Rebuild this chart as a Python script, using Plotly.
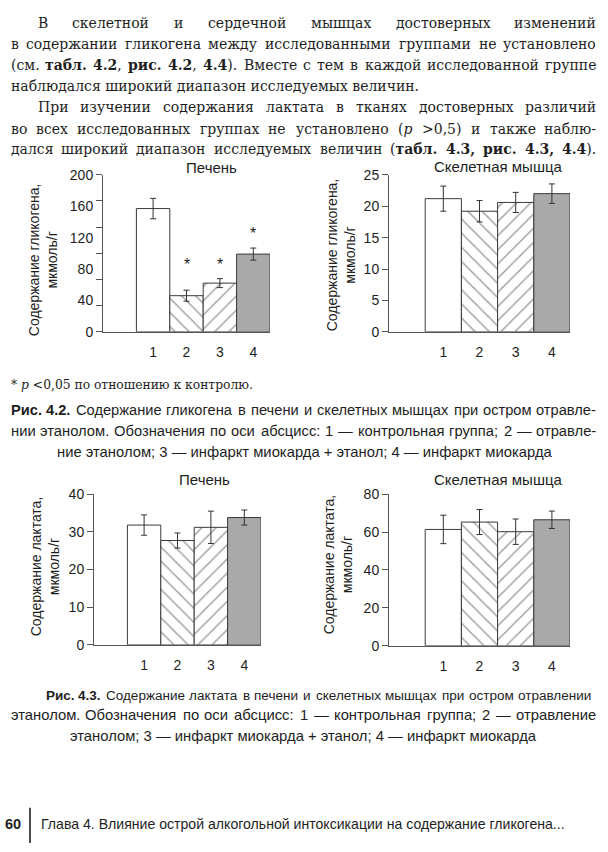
import re
import glob
import plotly.graph_objects as go

W, H = 608, 852

# ---------------- data ----------------
groups = ["1", "2", "3", "4"]
glyc_liver = [157, 46, 62, 99]
glyc_liver_err = [13, 7, 5.7, 7.7]
glyc_liver_sig = ["", "*", "*", "*"]
glyc_muscle = [21.2, 19.2, 20.6, 22.0]
glyc_muscle_err = [2.0, 1.7, 1.6, 1.55]
lact_liver = [31.8, 27.7, 31.2, 33.8]
lact_liver_err = [2.7, 2.0, 4.3, 2.0]
lact_muscle = [61.4, 65.3, 60.2, 66.5]
lact_muscle_err = [7.5, 6.6, 6.7, 4.6]

glyc_liver_ticks = [0, 40, 80, 120, 160, 200]
glyc_muscle_ticks = [0, 5, 10, 15, 20, 25]
lact_liver_ticks = [0, 10, 20, 30, 40]
lact_muscle_ticks = [0, 20, 40, 60, 80]

# ---------------- styles ----------------
SANS = "Liberation Sans, Arial, sans-serif"
SERIF = "DejaVu Serif, serif"
INK = "#1e1e1e"
fills = ["white", "white", "white", "#a9a9a9"]
hatch = ["", "\\", "/", ""]


def px(x):
    return x / W


def py(y):
    return 1 - y / H


fig = go.Figure()

panels = [
    (glyc_liver, glyc_liver_err, 200, glyc_liver_ticks, (103, 270), (330, 170),
     "Печень", (212, 163), "Содержание гликогена,<br>мкмоль/г", (43, 257)),
    (glyc_muscle, glyc_muscle_err, 25, glyc_muscle_ticks, (389, 570), (330, 170),
     "Скелетная мышца", (498, 162), "Содержание гликогена,<br>мкмоль/г", (341, 252)),
    (lact_liver, lact_liver_err, 40, lact_liver_ticks, (94, 261), (649, 495.5),
     "Печень", (204, 481), "Содержание лактата,<br>мкмоль/г", (45, 569)),
    (lact_muscle, lact_muscle_err, 80, lact_muscle_ticks, (389, 570), (650, 495.5),
     "Скелетная мышца", (498, 481), "Содержание лактата,<br>мкмоль/г", (338, 567)),
]

annotations = []
for i, (vals, errs, ymax, ticks, xd, yd, title, tpos, ytitle, ytpos) in enumerate(panels):
    n = i + 1
    xa = "x" if n == 1 else f"x{n}"
    ya = "y" if n == 1 else f"y{n}"
    fig.add_trace(go.Bar(
        x=[1, 2, 3, 4], y=vals, width=1, xaxis=xa, yaxis=ya,
        marker=dict(color=fills, line=dict(color="#3a3a3a", width=1),
                    pattern=dict(shape=hatch, size=10, solidity=0.15,
                                 fgcolor="#000", bgcolor="white")),
        error_y=dict(type="data", array=errs, color="#333", thickness=1, width=3),
        showlegend=False, hoverinfo="skip",
    ))
    xkey = "xaxis" if n == 1 else f"xaxis{n}"
    ykey = "yaxis" if n == 1 else f"yaxis{n}"
    xaxis = dict(domain=[px(xd[0]), px(xd[1])], range=[-0.5, 4.5], anchor=ya,
                 tickvals=[1, 2, 3, 4], ticktext=groups, ticks="",
                 ticklabelstandoff=7, showgrid=False, zeroline=False,
                 showline=True, linecolor="#555", linewidth=1,
                 tickfont=dict(family=SANS, size=14, color=INK), fixedrange=True)
    yaxis = dict(domain=[py(yd[0]), py(yd[1])], range=[0, ymax], anchor=xa,
                 tickvals=ticks, ticks="outside", ticklen=6, tickcolor="#555",
                 showgrid=False, zeroline=False, showline=True, linecolor="#555",
                 linewidth=1, tickfont=dict(family=SANS, size=14, color=INK),
                 fixedrange=True)
    if n == 1:
        # in the original the tick marks divide the axis into 6 parts,
        # while the labels are every 40 units
        yaxis["tickcolor"] = "rgba(0,0,0,0)"
        yaxis["minor"] = dict(tickvals=[ymax * k / 6 for k in range(7)],
                              ticks="outside", ticklen=6, tickcolor="#555")
    fig.layout[xkey] = xaxis
    fig.layout[ykey] = yaxis
    annotations.append(dict(text=title, x=px(tpos[0]), y=py(tpos[1]), xref="paper",
                            yref="paper", showarrow=False, xanchor="center",
                            yanchor="middle", font=dict(family=SANS, size=15, color=INK)))
    annotations.append(dict(text=ytitle, x=px(ytpos[0]), y=py(ytpos[1]), xref="paper",
                            yref="paper", showarrow=False, xanchor="center",
                            yanchor="middle", textangle=-90,
                            font=dict(family=SANS, size=14, color=INK)))

# significance asterisks for glycogen in liver
tops = [v + e for v, e in zip(glyc_liver, glyc_liver_err)]
star_y = [t + 18 for t in tops]
star_y[1] = star_y[2] = max(star_y[1], star_y[2])  # aligned as in the original
for k, s in enumerate(glyc_liver_sig):
    if s:
        annotations.append(dict(text=s, x=k + 1, y=star_y[k], xref="x", yref="y",
                                showarrow=False, yanchor="middle",
                                font=dict(family=SANS, size=16, color=INK)))

# ---------------- text measurement ----------------
FONT_FILES = {
    ("serif", ""): "DejaVuSerif.ttf", ("serif", "b"): "DejaVuSerif-Bold.ttf",
    ("serif", "i"): "DejaVuSerif-Italic.ttf",
    ("sans", ""): "LiberationSans-Regular.ttf", ("sans", "b"): "LiberationSans-Bold.ttf",
    ("sans", "i"): "LiberationSans-Italic.ttf",
}
_fonts = {}
try:
    from PIL import ImageFont
    for key, fname in FONT_FILES.items():
        hits = []
        for root in ("/usr/share/fonts", "/usr/local/share/fonts"):
            hits += glob.glob(f"{root}/**/{fname}", recursive=True)
        if hits:
            _fonts[key] = ImageFont.truetype(hits[0], 100)
except Exception:
    _fonts = {}

EST = {
    "serif": dict(space=0.318, lower=0.663, upper=0.76, digit=0.636, punct=0.318,
                  paren=0.39, cmp=0.838, dash=1.0, hyph=0.338, plus=0.838, bold=1.08),
    "sans": dict(space=0.278, lower=0.554, upper=0.68, digit=0.556, punct=0.278,
                 paren=0.333, cmp=0.584, dash=1.0, hyph=0.333, plus=0.584, bold=1.07),
}


def est_width(s, fam, style):
    tab = EST[fam]
    w = 0.0
    for ch in s:
        if ch == " ":
            w += tab["space"]
        elif ch.isdigit():
            w += tab["digit"]
        elif ch in ".,;:":
            w += tab["punct"]
        elif ch in "()":
            w += tab["paren"]
        elif ch in "<>":
            w += tab["cmp"]
        elif ch == "—":
            w += tab["dash"]
        elif ch == "-":
            w += tab["hyph"]
        elif ch == "+":
            w += tab["plus"]
        elif ch.isupper():
            w += tab["upper"]
        else:
            w += tab["lower"]
    if style == "b":
        w *= tab["bold"]
    return w


def seg_width(s, fam, style):
    """width in em of a plain string"""
    f = _fonts.get((fam, style)) or _fonts.get((fam, ""))
    if f is not None:
        try:
            return f.getlength(s) / 100.0
        except Exception:
            pass
    return est_width(s, fam, style)


def markup_width(tok, fam):
    w = 0.0
    style = ""
    for part in re.split(r"(<[^>]+>)", tok):
        if not part:
            continue
        if part.startswith("<"):
            style = part[1] if part in ("<b>", "<i>") else ""
            continue
        s = part.replace("&gt;", ">").replace("&lt;", "<")
        w += seg_width(s, fam, style)
    return w


def text(t, x, y, font, size, anchor="left"):
    annotations.append(dict(text=t, x=px(x), y=py(y), xref="paper", yref="paper",
                            showarrow=False, xanchor=anchor, yanchor="middle",
                            borderpad=0, font=dict(family=font, size=size, color=INK)))


def justify(line, x0, x1, y, fam, size):
    font = SERIF if fam == "serif" else SANS
    toks = line.split(" ")
    space = seg_width(" ", fam, "")
    ems = [markup_width(t, fam) for t in toks]
    natural = sum(ems) + space * (len(toks) - 1)
    # shrink if the line does not fit
    size = min(size, (x1 - x0) / natural * 0.98)
    widths = [e * size for e in ems]
    gap = (x1 - x0 - sum(widths)) / (len(toks) - 1)
    x = x0
    last = len(toks) - 1
    for k, (t, w) in enumerate(zip(toks, widths)):
        if k == 0:
            text(t, x0, y, font, size, anchor="left")
        elif k == last:
            text(t, x1, y, font, size, anchor="right")
        else:
            text(t, x + w / 2, y, font, size, anchor="center")
        x += w + gap


BS = 14
justify("В скелетной и сердечной мышцах достоверных изменений", 37, 597, 15, "serif", BS)
justify("в содержании гликогена между исследованными группами не установлено",
        10, 597, 37, "serif", BS)
justify("(см. <b>табл.</b> <b>4.2</b>, <b>рис.</b> <b>4.2</b>, <b>4.4</b>). Вместе с тем в каждой исследованной группе",
        10, 597, 58, "serif", BS)
text("наблюдался широкий диапазон исследуемых величин.", 10, 80, SERIF, BS)
justify("При изучении содержания лактата в тканях достоверных различий",
        37, 597, 101, "serif", BS)
justify("во всех исследованных группах не установлено (<i>p</i> &gt;0,5) и также наблю-",
        10, 597, 123, "serif", BS)
justify("дался широкий диапазон исследуемых величин (<b>табл.</b> <b>4.3,</b> <b>рис.</b> <b>4.3,</b> <b>4.4</b>).",
        10, 597, 144, "serif", BS)

# notes and captions
text("* <i>p</i> &lt;0,05 по отношению к контролю.", 10, 384, SERIF, 12.3)
CS = 14.8
justify("<b>Рис.</b> <b>4.2.</b> Содержание гликогена в печени и скелетных мышцах при остром отравле-",
        10, 597, 410, "sans", CS)
justify("нии этанолом. Обозначения по оси абсцисс: 1 — контрольная группа; 2 — отравле-",
        10, 597, 431, "sans", CS)
text("ние этанолом; 3 — инфаркт миокарда + этанол; 4 — инфаркт миокарда",
     305, 452, SANS, CS, anchor="center")
justify("<b>Рис.</b> <b>4.3.</b> Содержание лактата в печени и скелетных мышцах при остром отравлении",
        45, 592, 701, "sans", CS)
justify("этанолом. Обозначения по оси абсцисс: 1 — контрольная группа; 2 — отравление",
        10, 597, 721, "sans", CS)
text("этанолом; 3 — инфаркт миокарда + этанол; 4 — инфаркт миокарда",
     303, 742, SANS, CS, anchor="center")

# footer
text("<b>60</b>", 4, 832, SANS, 14.5)
text("Глава 4. Влияние острой алкогольной интоксикации на содержание гликогена...",
     40, 832, SANS, 14.1)

fig.update_layout(
    width=W, height=H, margin=dict(l=0, r=0, t=0, b=0),
    paper_bgcolor="white", plot_bgcolor="white",
    annotations=annotations,
    shapes=[dict(type="line", xref="paper", yref="paper", x0=px(30), x1=px(30),
                 y0=py(815), y1=py(851), line=dict(color="#111", width=1.5))],
)

fig.write_html("out.html", config={"displayModeBar": False, "staticPlot": True},
               post_script="document.body.style.margin='0';")
